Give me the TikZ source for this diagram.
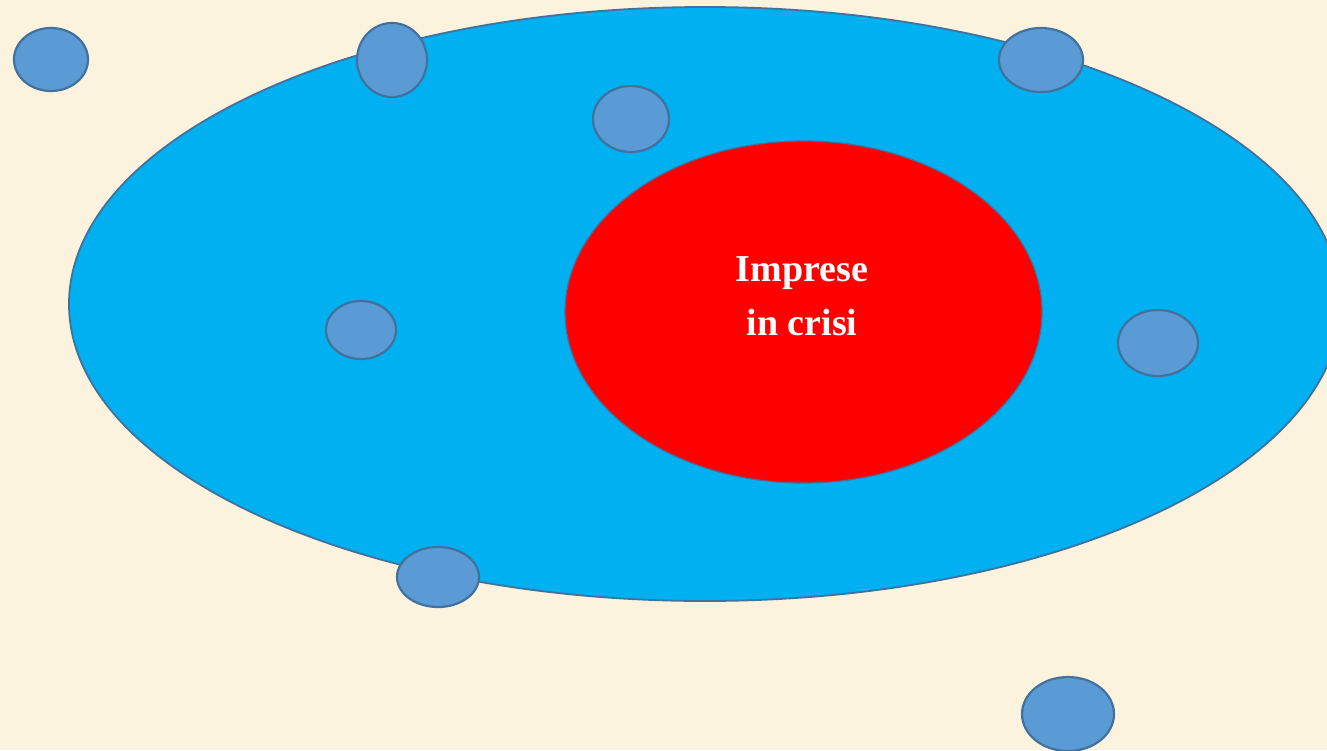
\documentclass[tikz,border=0pt]{standalone}
\usepackage{fontspec}
\setmainfont{Liberation Serif}
\usetikzlibrary{shapes.geometric}
\definecolor{bg}{HTML}{FCF3DE}
\definecolor{bigblue}{HTML}{00B0F0}
\definecolor{bigline}{HTML}{41719C}
\definecolor{redfill}{HTML}{FF0000}
\definecolor{dotfill}{HTML}{5B9BD5}
\definecolor{dotline}{HTML}{41719C}
\tikzset{
  dot/.style={ellipse, inner sep=0pt, fill=dotfill, draw=dotline, line width=1.1pt},
  bigell/.style={ellipse, inner sep=0pt, fill=bigblue, draw=bigline, line width=0.9pt},
  redell/.style={ellipse, inner sep=0pt, fill=redfill, draw=bigline, line width=0.6pt},
  lbl/.style={text=white, font=\bfseries\fontsize{19}{27}\selectfont, align=center}
}
\begin{document}
\begin{tikzpicture}[x=0.5pt,y=-0.5pt]
\fill[bg] (0,0) rectangle (1327,750);
\useasboundingbox (0,0) rectangle (1327,750);
\clip (0,0) rectangle (1327,750);
\node[bigell, minimum width=636pt, minimum height=297pt] (outer) at (705,304) {};
\node[redell, minimum width=238.5pt, minimum height=171pt] (crisi) at (803.5,312) {};
\node[lbl] (txt) at (802,296) {Imprese\\in crisi};
\node[dot, minimum width=37pt, minimum height=31.5pt] (d1) at (51,59.5) {};
\node[dot, minimum width=35pt, minimum height=37pt] (d2) at (392,60) {};
\node[dot, minimum width=42pt, minimum height=32pt] (d3) at (1041,60) {};
\node[dot, minimum width=38pt, minimum height=33pt] (d4) at (631,119) {};
\node[dot, minimum width=35pt, minimum height=29pt] (d5) at (361,330) {};
\node[dot, minimum width=40pt, minimum height=33pt] (d6) at (1158,343) {};
\node[dot, minimum width=41pt, minimum height=30pt] (d7) at (438,577) {};
\node[dot, minimum width=46pt, minimum height=37pt] (d8) at (1068,714) {};
\end{tikzpicture}
\end{document}
